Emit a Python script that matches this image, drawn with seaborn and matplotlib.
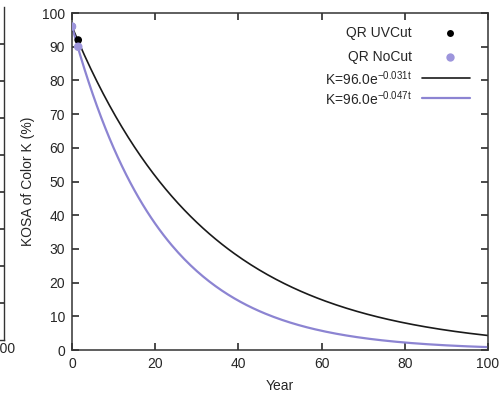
import numpy as np
import pandas as pd
import seaborn as sns
import matplotlib.pyplot as plt

# measured points
uvcut_year = [0, 1.5]
uvcut_kosa = [96, 92]
nocut_year = [0, 1.5]
nocut_kosa = [96, 90]

# fitted decay K = k0 * exp(-rate * t)
k0 = 96.0
rate_uvcut = 0.031
rate_nocut = 0.047
years = np.linspace(0, 100, 201)

x_ticks = [0, 20, 40, 60, 80, 100]
y_ticks = [0, 10, 20, 30, 40, 50, 60, 70, 80, 90, 100]

black = '#1a1a1a'
purple_line = '#8c84d2'
purple_dot = '#9d95dc'

sns.set_theme(style='ticks')
plt.rcParams['font.family'] = ['Liberation Sans', 'DejaVu Sans']
plt.rcParams['mathtext.fontset'] = 'custom'
plt.rcParams['mathtext.rm'] = 'Liberation Sans'
plt.rcParams['mathtext.it'] = 'Liberation Sans'

fig = plt.figure(figsize=(5, 3.96), dpi=100)

# right edge of the neighbouring panel, cut off by the crop
ax_left = fig.add_axes([-0.8, 0.141, 0.807, 0.841])
ax_left.set_xlim(0, 100)
ax_left.set_ylim(0, 90)
ax_left.set_xticks([100])
ax_left.set_xticklabels(['100'])
ax_left.set_yticks(range(10, 90, 10))
ax_left.yaxis.tick_right()
ax_left.tick_params(axis='y', direction='in', length=5, labelright=False, color='#333333')
ax_left.tick_params(axis='x', direction='in', length=0, labelsize=10, pad=1)
for s in ['left', 'top']:
    ax_left.spines[s].set_visible(False)
for s in ['right', 'bottom']:
    ax_left.spines[s].set_color('#333333')
    ax_left.spines[s].set_linewidth(1.0)

ax = fig.add_axes([0.144, 0.116, 0.832, 0.851])

fit_df = pd.DataFrame({
    'year': np.concatenate([years, years]),
    'kosa': np.concatenate([k0 * np.exp(-rate_uvcut * years), k0 * np.exp(-rate_nocut * years)]),
    'fit': ['uv'] * len(years) + ['no'] * len(years),
})

sns.lineplot(data=fit_df[fit_df['fit'] == 'uv'], x='year', y='kosa', color=black, lw=1.2, ax=ax)
sns.lineplot(data=fit_df[fit_df['fit'] == 'no'], x='year', y='kosa', color=purple_line, lw=1.6, ax=ax)
sns.scatterplot(x=uvcut_year, y=uvcut_kosa, color='black', s=30, edgecolor='none', ax=ax, zorder=3)
sns.scatterplot(x=nocut_year, y=nocut_kosa, color=purple_dot, s=38, edgecolor='none', ax=ax, zorder=4)

ax.set_xlim(0, 100)
ax.set_ylim(0, 100)
ax.set_xticks(x_ticks)
ax.set_yticks(y_ticks)
ax.tick_params(direction='in', length=5, labelsize=10, color='#333333', pad=5,
               top=True, right=True)
for s in ax.spines.values():
    s.set_color('#333333')
    s.set_linewidth(1.1)
ax.set_xlabel('Year', fontsize=10, labelpad=6)
ax.set_ylabel('KOSA of Color K (%)', fontsize=10, labelpad=5)

# gnuplot-like key: right-aligned labels, sample to the right
key_labels = ['QR UVCut', 'QR NoCut',
              f'K={k0:.1f}e$^{{-{rate_uvcut:.3f}t}}$', f'K={k0:.1f}e$^{{-{rate_nocut:.3f}t}}$']
key_rows = [0.941, 0.871, 0.806, 0.747]
for lab, yy in zip(key_labels, key_rows):
    ax.text(0.817, yy, lab, transform=ax.transAxes, ha='right', va='center', fontsize=10)
ax.plot([0.909], [key_rows[0]], 'o', color='black', ms=5, mec='none', transform=ax.transAxes)
ax.plot([0.909], [key_rows[1]], 'o', color=purple_dot, ms=6, mec='none', transform=ax.transAxes)
ax.plot([0.841, 0.957], [key_rows[2]] * 2, color=black, lw=1.2, transform=ax.transAxes)
ax.plot([0.841, 0.957], [key_rows[3]] * 2, color=purple_line, lw=1.6, transform=ax.transAxes)

fig.savefig('out.png', dpi=100)
